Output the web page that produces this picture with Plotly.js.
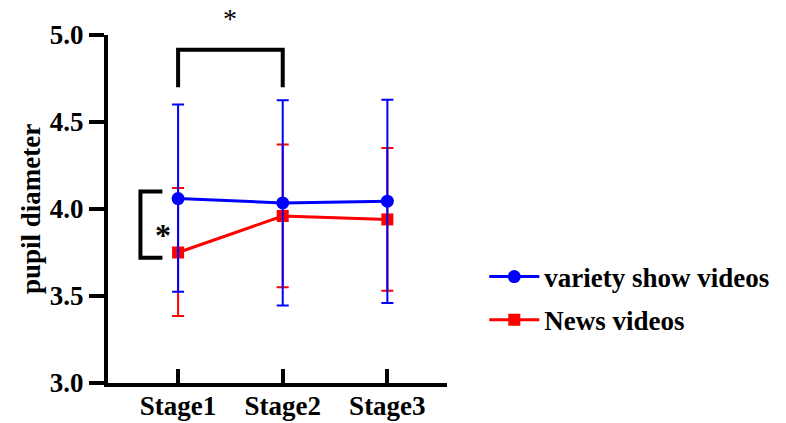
<!DOCTYPE html>
<html>
<head>
<meta charset="utf-8">
<script src="https://cdn.plot.ly/plotly-3.0.1.min.js"></script>
<style>html,body{margin:0;padding:0;background:#fff;}#chart{width:786px;height:423px;}</style>
</head>
<body>
<div id="chart"></div>
<script>
const categories = ["Stage1", "Stage2", "Stage3"];
const varietyMean = [4.06, 4.035, 4.045];
const varietyUpper = [4.60, 4.625, 4.628];
const varietyLower = [3.525, 3.445, 3.46];
const newsMean = [3.75, 3.96, 3.94];
const newsUpper = [4.12, 4.37, 4.35];
const newsLower = [3.385, 3.55, 3.53];
const yTicks = [3.0, 3.5, 4.0, 4.5, 5.0];
const yTickLabels = ["3.0", "3.5", "4.0", "4.5", "5.0"];

const FONT = "Liberation Serif, Times New Roman, serif";
const xIdx = categories.map((c, i) => i);
const plus = (u, m) => u.map((v, i) => v - m[i]);
const minus = (l, m) => l.map((v, i) => m[i] - v);

const news = {
  x: xIdx, y: newsMean, name: "News videos", type: "scatter", mode: "lines+markers",
  line: {color: "#ff0000", width: 3},
  marker: {symbol: "square", size: 12, color: "#ff0000"},
  error_y: {type: "data", symmetric: false, array: plus(newsUpper, newsMean), arrayminus: minus(newsLower, newsMean), color: "#ff0000", thickness: 2, width: 6},
  legendrank: 2, legendgroup: "b", cliponaxis: false
};
const variety = {
  x: xIdx, y: varietyMean, name: "variety show videos", type: "scatter", mode: "lines+markers",
  line: {color: "#0000ff", width: 3},
  marker: {symbol: "circle", size: 13, color: "#0000ff"},
  error_y: {type: "data", symmetric: false, array: plus(varietyUpper, varietyMean), arrayminus: minus(varietyLower, varietyMean), color: "#0000ff", thickness: 2, width: 6},
  legendrank: 1, legendgroup: "a", cliponaxis: false
};

// significance brackets (data coordinates)
const topBracketX = [0, 1];
const topBracketY = [4.70, 4.915];
const leftBracketX = [-0.36, -0.15];
const leftBracketY = [3.72, 4.10];

const shapes = [
  {type: "path", xref: "x", yref: "y",
   path: `M ${topBracketX[0]} ${topBracketY[0]} L ${topBracketX[0]} ${topBracketY[1]} L ${topBracketX[1]} ${topBracketY[1]} L ${topBracketX[1]} ${topBracketY[0]}`,
   line: {color: "#000", width: 4}},
  {type: "path", xref: "x", yref: "y",
   path: `M ${leftBracketX[1]} ${leftBracketY[1]} L ${leftBracketX[0]} ${leftBracketY[1]} L ${leftBracketX[0]} ${leftBracketY[0]} L ${leftBracketX[1]} ${leftBracketY[0]}`,
   line: {color: "#000", width: 4}}
];

const annotations = [
  {x: (topBracketX[0] + topBracketX[1]) / 2, y: 5.0, xref: "x", yref: "y", text: "*", showarrow: false,
   yshift: 17, font: {family: FONT, size: 28, color: "#000"}},
  {x: leftBracketX[1] + 0.01, y: (leftBracketY[0] + leftBracketY[1]) / 2, xref: "x", yref: "y", text: "<b>*</b>", showarrow: false,
   yshift: -10, font: {family: FONT, size: 32, color: "#000"}}
];

const layout = {
  width: 786, height: 423,
  margin: {l: 108, r: 339, t: 35, b: 40},
  paper_bgcolor: "#fff", plot_bgcolor: "#fff",
  font: {family: FONT, color: "#000"},
  showlegend: true,
  legend: {x: 1.11, y: 0.375, xanchor: "left", yanchor: "top", bgcolor: "rgba(0,0,0,0)", itemwidth: 50,
           font: {family: FONT, size: 27, color: "#000", weight: "bold"}, tracegroupgap: 5, traceorder: "grouped"},
  xaxis: {
    range: [-0.67, 2.57], tickmode: "array", tickvals: xIdx, ticktext: categories,
    showgrid: false, zeroline: false, showline: true, linecolor: "#000", linewidth: 4,
    ticks: "inside", ticklen: 14, tickwidth: 4, tickcolor: "#000", ticklabelstandoff: -4,
    tickfont: {family: FONT, size: 27, color: "#000", weight: "bold"}, fixedrange: true
  },
  yaxis: {
    range: [3, 5], tickmode: "array", tickvals: yTicks, ticktext: yTickLabels,
    showgrid: false, zeroline: false, showline: true, linecolor: "#000", linewidth: 4,
    ticks: "outside", ticklen: 15, tickwidth: 4, tickcolor: "#000",
    tickfont: {family: FONT, size: 27, color: "#000", weight: "bold"},
    title: {text: "pupil diameter", font: {family: FONT, size: 27, color: "#000", weight: "bold"}, standoff: 2},
    fixedrange: true
  },
  shapes: shapes, annotations: annotations
};

Plotly.newPlot("chart", [news, variety], layout, {displayModeBar: false, staticPlot: true});
</script>
</body>
</html>
